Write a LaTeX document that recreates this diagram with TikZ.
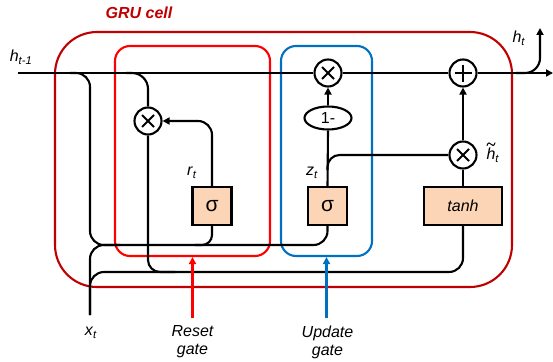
\documentclass[tikz,border=0pt]{standalone}
\usepackage{fontspec}
\setmainfont{Liberation Sans}
\usetikzlibrary{arrows.meta,shapes.geometric}
\definecolor{cellred}{HTML}{C00000}
\definecolor{gatered}{HTML}{FF0000}
\definecolor{gateblue}{HTML}{0070C0}
\definecolor{actfill}{HTML}{FBD5B5}

\begin{document}
\begin{tikzpicture}[x=1pt,y=-1pt,line width=2.1pt,
  font=\fontsize{16}{19}\selectfont,
  tip/.style={-{Triangle[length=7pt,width=7pt]}},
  op/.style={circle,draw,fill=white,minimum size=27pt,inner sep=0pt},
  mul/.style={op,path picture={\draw[line width=2.1pt]
      (path picture bounding box.center) +(-6,-6) -- +(6,6)
      +(-6,6) -- +(6,-6);}},
  add/.style={op,path picture={\draw[line width=2.1pt]
      (path picture bounding box.center) +(-8.5,0) -- +(8.5,0)
      +(0,-8.5) -- +(0,8.5);}},
  act/.style={rectangle,draw,fill=actfill,minimum height=38pt,inner sep=0pt},
  gatebox/.style={rectangle,draw,rounded corners=15pt,inner sep=0pt,minimum height=210pt},
  lbl/.style={inner sep=0pt}]
\useasboundingbox (0,0) rectangle (553,361);

% cell and gate frames
\node[rectangle,draw=cellred,rounded corners=42pt,minimum width=457pt,minimum height=255pt] (cell) at (283.5,159.5) {};
\node[gatebox,draw=gatered,minimum width=155pt] (rbox) at (192.5,151) {};
\node[gatebox,draw=gateblue,minimum width=91pt] (ubox) at (326.5,151) {};

% operators and activations
\node[mul] (mulR) at (148,121) {};
\node[mul] (mulZ) at (328,73) {};
\node[add] (plus) at (463,73) {};
\node[mul] (mulH) at (463,155) {};
\node[ellipse,draw,fill=white,minimum width=47pt,minimum height=23pt,inner sep=0pt] (one) at (328,118) {1-};
\node[act,minimum width=39pt,font=\fontsize{21}{21}\selectfont] (sigR) at (212,206) {σ};
\node[act,minimum width=39pt,font=\fontsize{21}{21}\selectfont] (sigZ) at (327.5,206) {σ};
\node[act,minimum width=78pt] (tanh) at (463,206) {\textit{tanh}};

% branch points and free ends
\coordinate (hin) at (18,73);
\coordinate (hout) at (553,73);
\coordinate (brA) at (70,73);
\coordinate (brB) at (126,73);
\coordinate (brH) at (516,73);
\coordinate (htout) at (540,28);
\coordinate (xin) at (90,315);
\coordinate (low) at (90,272);
\coordinate (rj) at (195,245);
\coordinate (mj) at (175,272);
\coordinate (xj) at (120,245);
\coordinate (zb) at (327.5,170);
\coordinate (rfoot) at (192.5,318);
\coordinate (ufoot) at (326.5,318);

% hidden state line
\draw (hin) -- (mulZ);
\draw (mulZ) -- (plus);
\draw[tip] (plus) -- (hout);
\draw[tip,rounded corners=15pt] (brH) -| (htout);

% inputs to the gates
\draw[rounded corners=14pt] (brA) -| (90,245) -| (sigZ.south);
\draw[rounded corners=14pt] (xin) |- (xj);
\draw[rounded corners=14pt] (xin) |- (tanh.south |- low) -- (tanh.south);
\draw[rounded corners=10pt] (sigR.south) |- (rj);
\draw[rounded corners=16pt] (brB) -| (mulR.north);
\draw[rounded corners=12pt] (mulR.south) |- (mj);
\draw[tip,rounded corners=14pt] (sigR.north) |- (mulR.east);

% update path
\draw (sigZ.north) -- (one.south);
\draw[tip] (one.north) -- (mulZ.south);
\draw[rounded corners=12pt] (zb) |- (mulH.west);
\draw (tanh.north) -- (mulH.south);
\draw[tip] (mulH.north) -- (plus.south);

% gate pointers
\draw[gatered,tip] (rfoot) -- (rbox.south);
\draw[gateblue,tip] (ufoot) -- (ubox.south);

% labels
\node[lbl,text=cellred,font=\fontsize{16}{19}\selectfont\bfseries\itshape] (title) at (139,13) {GRU cell};
\node[lbl] (hprev) at (21,57) {\textit{h}\textsubscript{\textit{t-1}}};
\node[lbl] (hnext) at (519,38) {\textit{h}\textsubscript{\textit{t}}};
\node[lbl] (rt) at (192,173) {\textit{r}\textsubscript{\textit{t}}};
\node[lbl] (zt) at (312,173) {\textit{z}\textsubscript{\textit{t}}};
\node[lbl] (ht) at (493,155) {\textit{h}\textsubscript{\textit{t}}};
\node[lbl] (xt) at (91,333) {\textit{x}\textsubscript{\textit{t}}};
\node[lbl,align=center,font=\fontsize{16}{18}\selectfont\itshape] (rlab) at (192.5,342) {Reset\\gate};
\node[lbl,align=center,font=\fontsize{16}{18}\selectfont\itshape] (ulab) at (327.5,342) {Update\\gate};
% tilde over the candidate state h
\draw[line width=1pt,line cap=round] (487,145.5) .. controls (488,142) and (490,142.5) .. (491,144.2)
  .. controls (492,146) and (494,146.3) .. (495,142.8);
\end{tikzpicture}
\end{document}
